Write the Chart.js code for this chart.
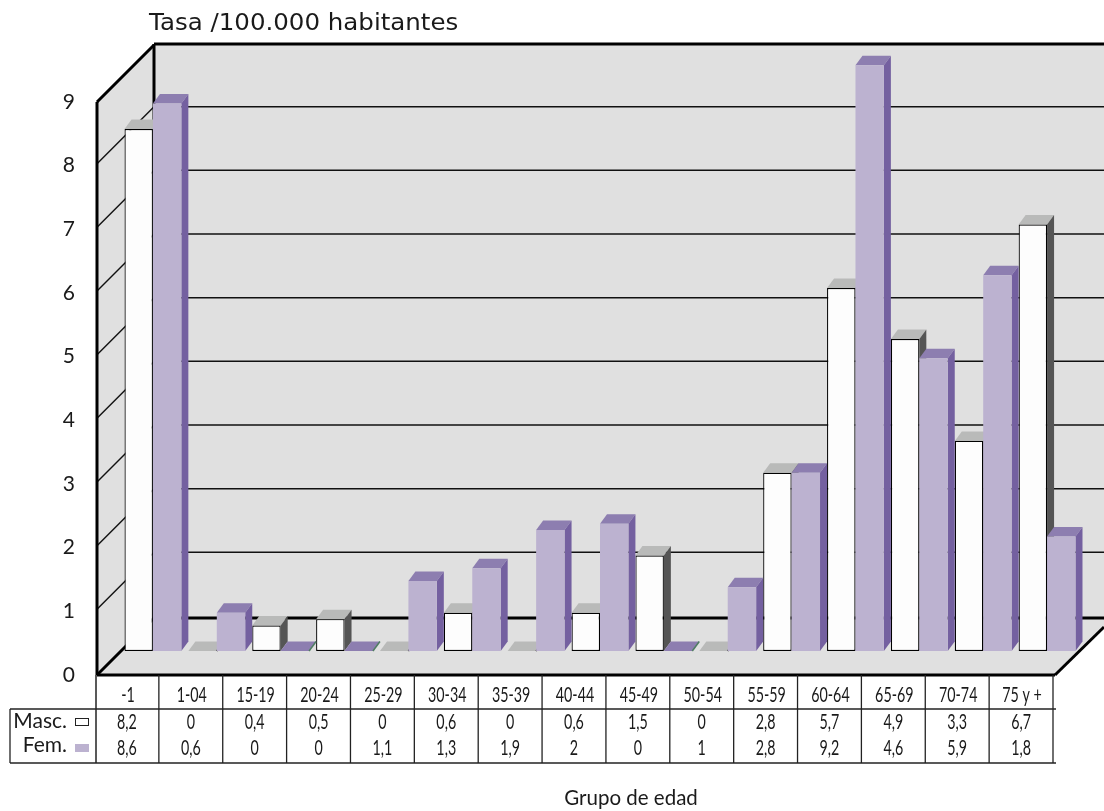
<!DOCTYPE html>
<html><head><meta charset="utf-8">
<style>html,body{margin:0;padding:0;background:#fff;overflow:hidden}canvas{display:block}</style>
<script src="https://cdn.jsdelivr.net/npm/chart.js@4"></script>
</head><body><canvas id="c" width="1104" height="811"></canvas>
<script>
const categories = ['-1','1-04','15-19','20-24','25-29','30-34','35-39','40-44','45-49','50-54','55-59','60-64','65-69','70-74','75 y +'];
const masc = [8.2,0,0.4,0.5,0,0.6,0,0.6,1.5,0,2.8,5.7,4.9,3.3,6.7];
const fem  = [8.6,0.6,0,0,1.1,1.3,1.9,2,0,1,2.8,9.2,4.6,5.9,1.8];
const mascLabels = ['8,2','0','0,4','0,5','0','0,6','0','0,6','1,5','0','2,8','5,7','4,9','3,3','6,7'];
const femLabels  = ['8,6','0,6','0','0','1,1','1,3','1,9','2','0','1','2,8','9,2','4,6','5,9','1,8'];
const yTicks = [0,1,2,3,4,5,6,7,8,9];

const WALL=57, SHIFT=24, DX=7, DY=-9.5;
const INK='#1a1a1a';
const styles = [
 {front:'#fdfdfd', top:'#b9bab9', side:'#555555', zero:'#222222'},
 {front:'#bcb2d0', top:'#8d7eb0', side:'#7460a0', zero:'#4f7d62'}
];
function poly(ctx,pts,fill){
  ctx.beginPath();pts.forEach((p,i)=>i?ctx.lineTo(p[0],p[1]):ctx.moveTo(p[0],p[1]));ctx.closePath();
  ctx.fillStyle=fill;ctx.fill();
}
function line(ctx,x1,y1,x2,y2,c,w){ctx.beginPath();ctx.moveTo(x1,y1);ctx.lineTo(x2,y2);ctx.strokeStyle=c;ctx.lineWidth=w;ctx.stroke();}
function narrow(ctx,str,x,y,sx){ctx.save();ctx.translate(x,y);ctx.scale(sx,1);ctx.fillText(str,0,0);ctx.restore();}

const scene = {
  id:'scene',
  beforeDraw(chart){
    const {ctx,chartArea:a,scales:{y}}=chart;
    const W=chart.width, L=a.left, R=a.right, B=y.getPixelForValue(0), T=y.getPixelForValue(9);
    ctx.save();
    ctx.fillStyle='#fff';ctx.fillRect(0,0,W,chart.height);
    poly(ctx,[[L+WALL,T-WALL],[W,T-WALL],[W,B-WALL],[L+WALL,B-WALL]],'#e0e0e0');
    poly(ctx,[[L,T],[L+WALL,T-WALL],[L+WALL,B-WALL],[L,B]],'#e0e0e0');
    poly(ctx,[[L,B],[L+WALL,B-WALL],[W,B-WALL],[W,B-WALL+9],[R,B]],'#e0e0e0');
    yTicks.slice(1,-1).forEach(v=>{
      const py=y.getPixelForValue(v);
      line(ctx,L,py-2,L+WALL,py-59,'#111',1.5);
      line(ctx,L+WALL,py-59,W,py-59,'#111',1.5);
    });
    line(ctx,L+WALL,T-WALL-1,W,T-WALL-1,'#000',3);
    line(ctx,L+WALL,B-WALL,W,B-WALL,'#000',3);
    line(ctx,L+WALL,T-WALL-1,L+WALL,B-WALL,'#000',3);
    line(ctx,L,T,L+WALL,T-WALL,'#000',3);
    line(ctx,L,T,L,B,'#000',3);
    line(ctx,L,B,L+WALL,B-WALL,'#000',3);
    line(ctx,L,B,R,B,'#000',3);
    line(ctx,R,B,W,B-WALL+9,'#000',3);
    ctx.restore();
  },
  beforeDatasetsDraw(chart){
    const {ctx}=chart;
    [0,1].forEach(idx=>{
      const st=styles[idx], meta=chart.getDatasetMeta(idx);
      ctx.save();
      ctx.translate(SHIFT,-SHIFT);
      meta.data.forEach(b=>{
        const l=b.x-b.width/2, r=b.x+b.width/2, t=b.y, base=b.base;
        poly(ctx,[[l,t],[l+DX,t+DY],[r+DX,t+DY],[r,t]],st.top);
        if(base-t>0.5) poly(ctx,[[r,t],[r+DX,t+DY],[r+DX,base+DY],[r,base]],st.side);
        else line(ctx,r,t,r+DX,t+DY,st.zero,1.5);
      });
      meta.controller.draw();
      ctx.restore();
    });
    return false;
  },
  afterDraw(chart){
    const {ctx,chartArea:a,scales:{x}}=chart;
    const top=a.bottom, r1=709, r2=763, rightEdge=a.right-2, leftEdge=10;
    const stroke='#222', tableFont='21px Lato,"Open Sans",sans-serif', sx=0.68;
    ctx.save();
    line(ctx,leftEdge,r1,a.right+1,r1,stroke,1.3);
    line(ctx,leftEdge,r2,a.right+1,r2,stroke,1.5);
    line(ctx,leftEdge,r1,leftEdge,r2,stroke,1.3);
    line(ctx,a.left-1,top,a.left-1,r2,stroke,1.5);
    categories.forEach((c,i)=>{
      const edge=i===categories.length-1?rightEdge:(x.getPixelForValue(i)+x.getPixelForValue(i+1))/2-2;
      line(ctx,edge,top,edge,r2,stroke,1.3);
    });
    ctx.textBaseline='middle';ctx.textAlign='center';ctx.fillStyle=INK;
    ctx.font=tableFont;
    categories.forEach((c,i)=>{
      const cx=x.getPixelForValue(i)-2;
      narrow(ctx,x.getLabelForValue(i),cx+1,695,sx);
      narrow(ctx,mascLabels[i],cx,722,sx);
      narrow(ctx,femLabels[i],cx,748,sx);
    });
    ctx.font='21px Lato,"Open Sans",sans-serif';
    ctx.textAlign='right';
    ctx.fillText('Masc.',67,721);
    ctx.fillText('Fem.',67,745);
    ctx.fillStyle='#fff';ctx.fillRect(75.5,718.5,13,7);
    ctx.strokeStyle='#222';ctx.lineWidth=1;ctx.strokeRect(75.5,718.5,13,7);
    ctx.fillStyle=styles[1].front;ctx.fillRect(75,744,14,8);
    ctx.fillStyle=INK;
    ctx.textAlign='left';
    ctx.font='23px "DejaVu Sans",sans-serif';
    narrow(ctx,'Tasa /100.000 habitantes',149,24,1.065);
    ctx.textAlign='center';
    ctx.font='20.5px Lato,"Open Sans",sans-serif';
    ctx.fillText('Grupo de edad',631,798);
    ctx.restore();
  }
};

new Chart(document.getElementById('c'),{
  type:'bar',
  data:{labels:categories,datasets:[
    {label:'Masc.',data:masc,backgroundColor:styles[0].front,borderColor:'#000',borderWidth:1.2,borderSkipped:false,clip:false},
    {label:'Fem.',data:fem,backgroundColor:styles[1].front,borderWidth:0,clip:false}
  ]},
  options:{
    responsive:false,animation:false,
    layout:{padding:{top:102,right:49,left:0,bottom:0}},
    datasets:{bar:{categoryPercentage:0.89,barPercentage:1}},
    plugins:{legend:{display:false},title:{display:false},tooltip:{enabled:false}},
    scales:{
      x:{
        grid:{display:false,drawTicks:false},border:{display:false},
        ticks:{display:false},
        afterFit(s){s.height=136;}
      },
      y:{
        min:0,max:9,
        grid:{display:false,drawTicks:false},border:{display:false},
        ticks:{stepSize:1,padding:22,color:INK,font:{family:'Lato,"Open Sans",sans-serif',size:21}},
        afterFit(s){s.width=97;}
      }
    }
  },
  plugins:[scene]
});
</script></body></html>
